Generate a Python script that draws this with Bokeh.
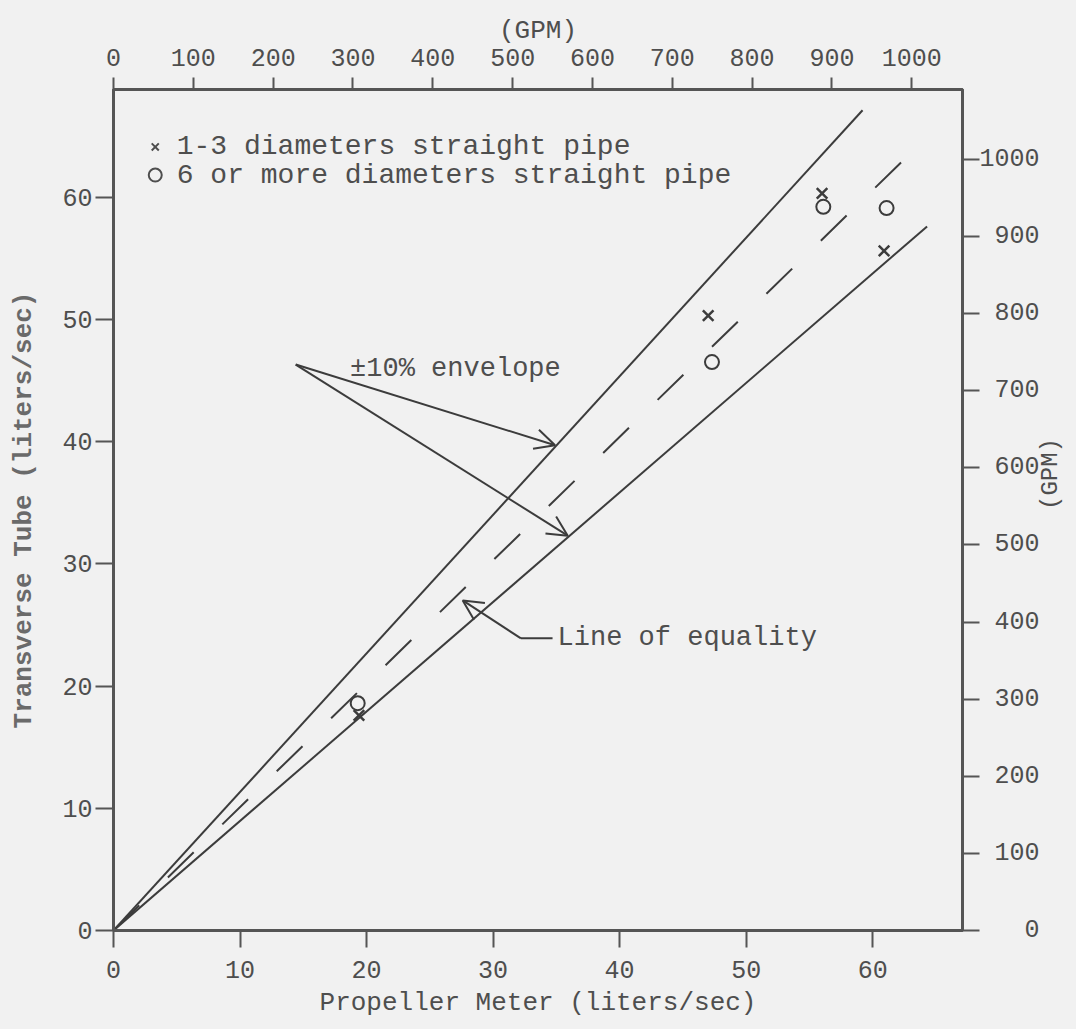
import math
from bokeh.plotting import figure
from bokeh.models import Range1d, LinearAxis, FixedTicker, Arrow, OpenHead
from bokeh.core.properties import value
from bokeh.embed import file_html
from bokeh.resources import INLINE

# ---------------- data ----------------
GPM_PER_LPS = 15.85          # 1 liter/sec = 15.85 US gallons/min

x_ticks = [0, 10, 20, 30, 40, 50, 60]
y_ticks = [0, 10, 20, 30, 40, 50, 60]
gpm_ticks = [0, 100, 200, 300, 400, 500, 600, 700, 800, 900, 1000]

x_max = 67.1
y_max = 68.8

# 1-3 diameters straight pipe (x markers)
short_pipe_x = [19.4, 47.0, 56.0, 60.9]
short_pipe_y = [17.6, 50.3, 60.3, 55.6]
# 6 or more diameters straight pipe (o markers)
long_pipe_x = [19.3, 47.3, 56.1, 61.1]
long_pipe_y = [18.6, 46.5, 59.2, 59.1]

# envelope and equality lines (hand drawn end points)
upper_x = [0, 59.2]
upper_y = [0, 67.1]
equal_x = [0, 63.7]
equal_y = [0, 64.3]
lower_x = [0, 64.3]
lower_y = [0, 57.6]

legend_labels = ["1-3 diameters straight pipe", "6 or more diameters straight pipe"]
legend_mark_x = [3.3, 3.3]
legend_mark_y = [64.1, 61.8]
legend_text_x = [5.0, 5.0]

env_label = "±10% envelope"
env_label_x = [18.7]
env_label_y = [45.9]
env_fork_x = 14.4
env_fork_y = 46.3
env_tip_x = [34.9, 35.9]
env_tip_y = [39.7, 32.3]

eq_label = "Line of equality"
eq_label_x = [35.1]
eq_label_y = [23.9]
eq_leader_x = [34.7, 32.2]
eq_leader_y = [23.9, 23.9]
eq_tip_x = 27.6
eq_tip_y = 27.0

# ---------------- style ----------------
BG = "#f1f1f1"
INK = "#3c3c3c"
TXT = "#4e4e4e"
AX = "#555555"
FONT = "Liberation Mono"

p = figure(frame_width=849, frame_height=841,
           x_range=Range1d(0, x_max), y_range=Range1d(0, y_max),
           output_backend="svg", toolbar_location=None,
           min_border_left=113, min_border_top=89, min_border_right=0, min_border_bottom=0,
           background_fill_color=BG, border_fill_color=BG)
p.extra_x_ranges = {"gpm": Range1d(0, x_max * GPM_PER_LPS)}
p.extra_y_ranges = {"gpm": Range1d(0, y_max * GPM_PER_LPS)}
p.xgrid.visible = False
p.ygrid.visible = False
p.outline_line_color = AX
p.outline_line_width = 3


def style_axis(ax, ticks, tick_out, standoff, lab_size, title_size, title_standoff):
    ax.ticker = FixedTicker(ticks=ticks)
    ax.minor_tick_line_color = None
    ax.major_tick_in = 0
    ax.major_tick_out = tick_out
    ax.major_tick_line_width = 2
    ax.major_tick_line_color = AX
    ax.axis_line_width = 3
    ax.axis_line_color = AX
    ax.major_label_standoff = standoff
    ax.major_label_text_font = FONT
    ax.major_label_text_font_size = f"{lab_size}px"
    ax.major_label_text_color = TXT
    ax.axis_label_text_font = FONT
    ax.axis_label_text_font_size = f"{title_size}px"
    ax.axis_label_text_font_style = "normal"
    ax.axis_label_text_color = TXT
    ax.axis_label_standoff = title_standoff


xa = p.xaxis[0]
xa.axis_label = "Propeller Meter (liters/sec)"
style_axis(xa, x_ticks, 17, 13, 25, 26, 7)

ya = p.yaxis[0]
ya.axis_label = "Transverse Tube (liters/sec)"
style_axis(ya, y_ticks, 18, 3, 25, 26, 20)
ya.axis_label_text_color = "#6a6a6a"
ya.axis_label_text_font_style = "bold"

top = LinearAxis(x_range_name="gpm", axis_label="(GPM)")
style_axis(top, gpm_ticks, 12, 12, 25, 26, 0)
p.add_layout(top, "above")

right = LinearAxis(y_range_name="gpm", axis_label="(GPM)")
style_axis(right, gpm_ticks, 17, 0, 25, 24, 8)
right.major_label_overrides = {t: ("\u00a0" * (4 - len(str(t)))) + str(t) for t in gpm_ticks}
try:
    right.axis_label_orientation = math.pi / 2
except Exception:
    pass
p.add_layout(right, "right")

# lines
p.line(upper_x, upper_y, line_color=INK, line_width=2)
p.line(lower_x, lower_y, line_color=INK, line_width=2)
p.line(equal_x, equal_y, line_color=INK, line_width=2, line_dash="36 40")

# data points
p.scatter(short_pipe_x, short_pipe_y, marker="x", size=15, line_color=INK, line_width=2.5)
p.scatter(long_pipe_x, long_pipe_y, marker="circle", size=14, fill_color=None,
          line_color=INK, line_width=2)

# legend block (typed text)
p.scatter(legend_mark_x[:1], legend_mark_y[:1], marker="x", size=10, line_color=TXT, line_width=2)
p.scatter(legend_mark_x[1:], legend_mark_y[1:], marker="circle", size=13, fill_color=None,
          line_color=TXT, line_width=2)
p.text(legend_text_x, legend_mark_y, text=legend_labels, text_font=value(FONT),
       text_font_size="28px", text_color=TXT, text_baseline="middle", text_align="left")

# envelope annotation
p.text(env_label_x, env_label_y, text=[env_label], text_font=value(FONT),
       text_font_size="27px", text_color=TXT, text_baseline="middle", text_align="left")
for tx, ty in zip(env_tip_x, env_tip_y):
    p.add_layout(Arrow(x_start=env_fork_x, y_start=env_fork_y, x_end=tx, y_end=ty,
                       line_color=INK, line_width=2,
                       end=OpenHead(size=20, line_color=INK, line_width=2)))

# equality annotation
p.text(eq_label_x, eq_label_y, text=[eq_label], text_font=value(FONT),
       text_font_size="27px", text_color=TXT, text_baseline="middle", text_align="left")
p.line(eq_leader_x, eq_leader_y, line_color=INK, line_width=2)
p.add_layout(Arrow(x_start=eq_leader_x[-1], y_start=eq_leader_y[-1], x_end=eq_tip_x, y_end=eq_tip_y,
                   line_color=INK, line_width=2,
                   end=OpenHead(size=20, line_color=INK, line_width=2)))

html = file_html(p, INLINE)
html = html.replace("<head>", "<head><style>html,body{background:%s;}</style>" % BG, 1)
open("out.html", "w").write(html)
